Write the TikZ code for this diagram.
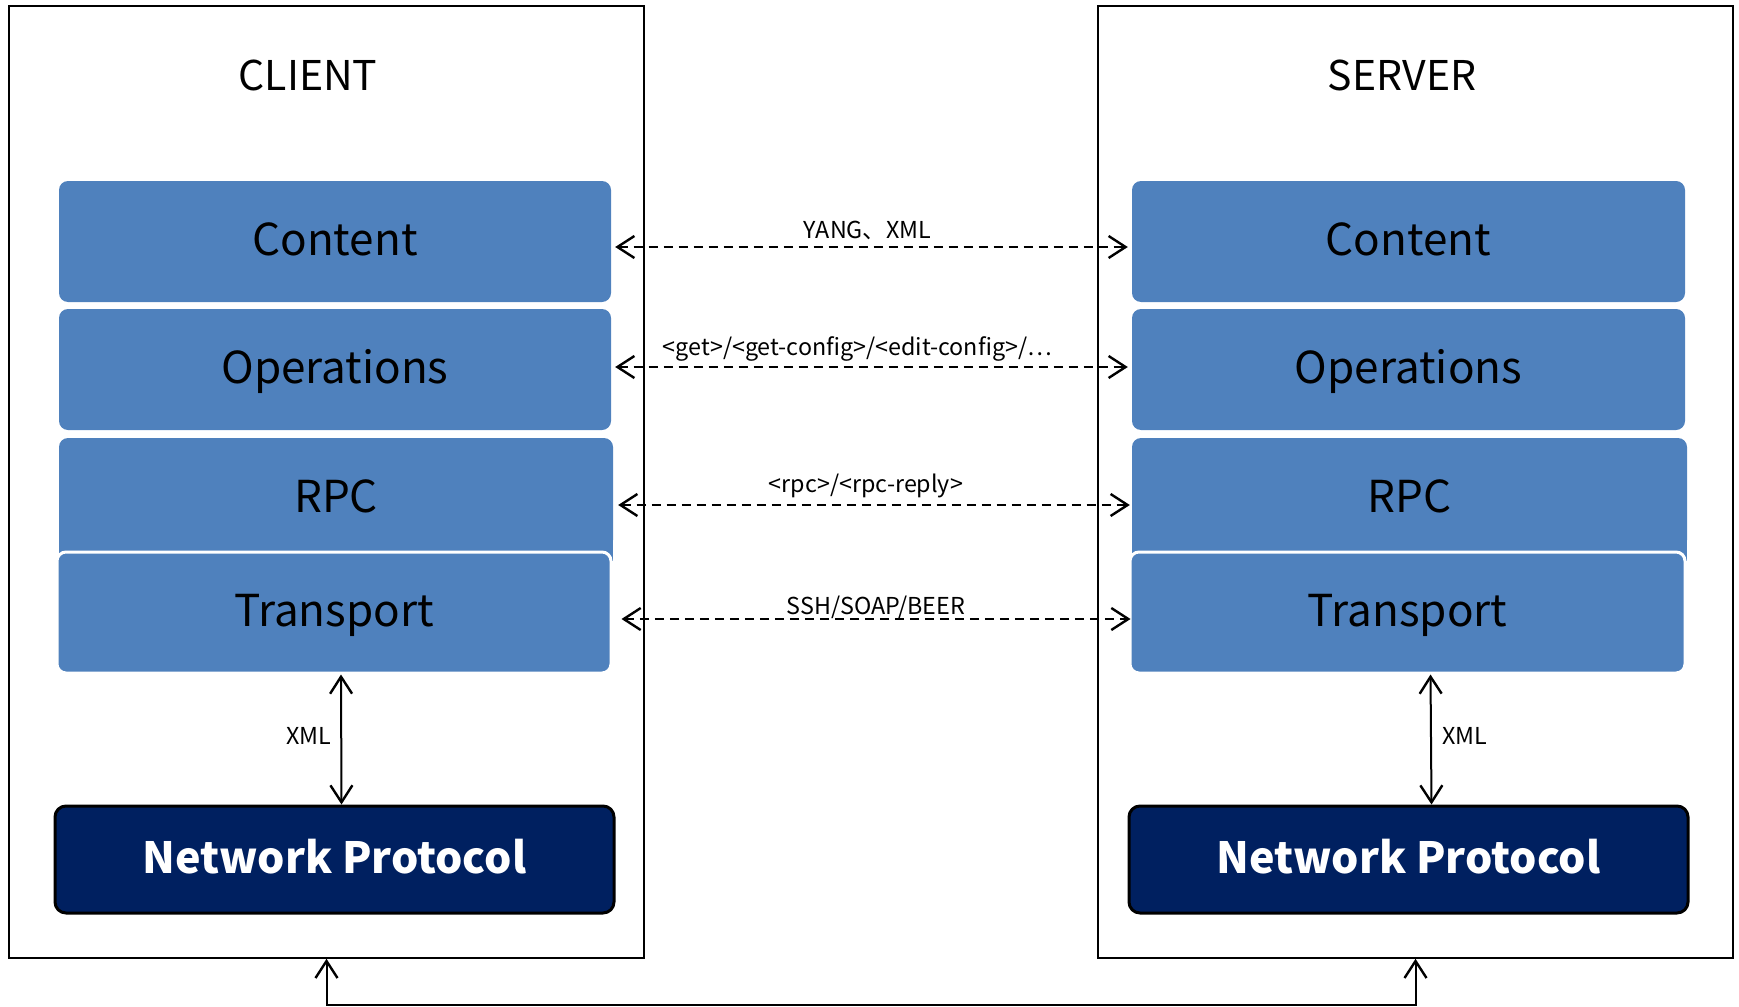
\documentclass[tikz,border=0pt]{standalone}
\usepackage{fontspec}
\setmainfont{Noto Sans CJK SC}
\usetikzlibrary{arrows.meta}
\definecolor{layerblue}{HTML}{4F81BD}
\definecolor{navy}{HTML}{002060}
\begin{document}
\begin{tikzpicture}[x=1pt,y=-1pt,
  side/.style={draw=black, line width=1.6pt, minimum width=635pt, minimum height=952pt, inner sep=0pt},
  sidetitle/.style={font=\fontsize{41}{48}\selectfont},
  layer/.style={fill=layerblue, rounded corners=9pt, minimum height=121pt, inner sep=0pt,
                text height=27pt, text depth=0pt, font=\fontsize{44}{52}\selectfont},
  netproto/.style={fill=navy, draw=black, line width=3pt, rounded corners=11pt,
                   minimum width=559pt, minimum height=107pt, inner sep=0pt, text=white,
                   text height=27pt, text depth=0pt, font=\fontsize{43}{52}\selectfont\bfseries},
  barbs/.style={{Straight Barb[length=17pt,width=22pt,line width=2.4pt]}-{Straight Barb[length=17pt,width=22pt,line width=2.4pt]}},
  peer/.style={barbs, line width=2pt, dash pattern=on 9pt off 6pt},
  solidlink/.style={barbs, line width=2pt},
  tag/.style={font=\fontsize{23.3}{27}\selectfont, inner sep=0pt}
]
\useasboundingbox (0,0) rectangle (1739,1006);

% outer frames
\node[side] (client) at (326.5,482) {};
\node[side] (server) at (1415.5,482) {};
\node[sidetitle] (ctitle) at (308,75) {CLIENT};
\node[sidetitle] (stitle) at (1402,75) {SERVER};

% client stack
\node[layer, minimum width=552pt] (cc) at (335,241.5) {Content};
\node[layer, minimum width=552pt] (co) at (335,369.5) {Operations};
\node[layer, minimum width=554pt, minimum height=111pt, text height=37pt] (cr) at (336,493.5) {RPC};
\fill[layerblue] ([yshift=12pt]cr.south west) rectangle ([yshift=-12pt]cr.south east);
\node[layer, minimum width=554pt, draw=white, line width=3pt, text height=28pt] (ct) at (334,612.5) {Transport};
\node[netproto] (cn) at (334.5,859.5) {Network Protocol};

% server stack
\node[layer, minimum width=553pt] (sc) at (1408.5,241.5) {Content};
\node[layer, minimum width=553pt] (so) at (1408.5,369.5) {Operations};
\node[layer, minimum width=555pt, minimum height=111pt, text height=37pt] (sr) at (1409.5,493.5) {RPC};
\fill[layerblue] ([yshift=12pt]sr.south west) rectangle ([yshift=-12pt]sr.south east);
\node[layer, minimum width=555pt, draw=white, line width=3pt, text height=28pt] (st) at (1407.5,612.5) {Transport};
\node[netproto] (sn) at (1408.5,859.5) {Network Protocol};

% peer exchanges between the stacks
\draw[peer] ([shift={(4,5.5)}]cc.east) -- ([shift={(-4,5.5)}]sc.west)
  node[tag, midway, yshift=17pt, xshift=-4pt] {YANG、XML};
\draw[peer] ([shift={(4,-2.5)}]co.east) -- ([shift={(-4,-2.5)}]so.west)
  node[tag, midway, yshift=18pt, xshift=-14pt] {<get>/<get-config>/<edit-config>/…};
\draw[peer] ([shift={(5,11.5)}]cr.east) -- ([shift={(-2,11.5)}]sr.west)
  node[tag, midway, yshift=19pt, xshift=-8pt] {<rpc>/<rpc-reply>};
\draw[peer] ([shift={(9,6.5)}]ct.east) -- ([shift={(2,6.5)}]st.west)
  node[tag, midway, yshift=12pt] {SSH/SOAP/BEER};

% transport to network protocol
\draw[solidlink] ([xshift=7pt]ct.south) -- ([xshift=7pt]cn.north);
\node[tag] (cxml) at (309,736) {XML};
\draw[solidlink] ([xshift=23pt]st.south) -- ([xshift=23pt]sn.north);
\node[tag] (sxml) at (1465,736) {XML};

% network link between the two sides
\draw[solidlink] (client.south) -- ++(0,46) -| (server.south);
\end{tikzpicture}
\end{document}
